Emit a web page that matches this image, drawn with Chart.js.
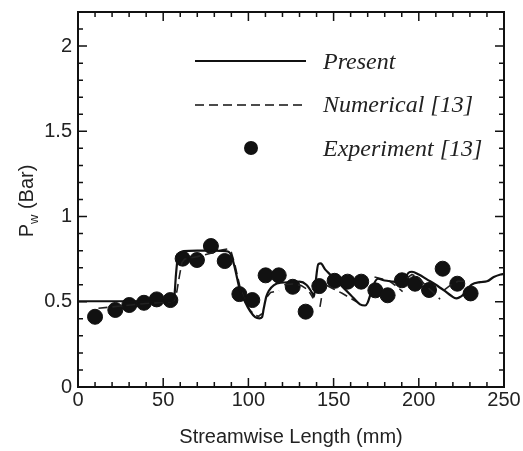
<!DOCTYPE html>
<html>
<head>
<meta charset="utf-8">
<script src="https://cdn.jsdelivr.net/npm/chart.js@4/dist/chart.umd.min.js"></script>
<style>
  html,body{margin:0;padding:0;background:#fff;}
  #wrap{width:523px;height:451px;}
</style>
</head>
<body>
<div id="wrap"><canvas id="grafico" width="523" height="451"></canvas></div>
<script>
// dados
const xTicks = [0, 50, 100, 150, 200, 250];
const yTicks = [0, 0.5, 1, 1.5, 2];

const presentX = [0, 20, 40, 55, 56.5, 57.5, 58.5, 60, 62, 70, 80, 88, 90, 92, 95, 98, 101, 104, 106.5, 108, 109, 110.5, 112, 115, 119, 125, 130, 134, 137.5, 138.5, 139.5, 141, 142.5, 145, 148, 154, 160, 165.5, 168.5, 170, 171.5, 173, 176, 180, 185, 190, 192, 194, 196, 200, 205, 210, 215, 219, 222, 226, 231, 236, 240, 244, 248, 250];
const presentY = [0.503, 0.503, 0.503, 0.505, 0.53, 0.66, 0.755, 0.785, 0.797, 0.8, 0.8, 0.795, 0.77, 0.7, 0.57, 0.5, 0.445, 0.41, 0.403, 0.41, 0.46, 0.53, 0.565, 0.598, 0.612, 0.615, 0.618, 0.6, 0.55, 0.53, 0.62, 0.72, 0.725, 0.69, 0.66, 0.6, 0.54, 0.485, 0.478, 0.495, 0.54, 0.59, 0.635, 0.625, 0.618, 0.61, 0.64, 0.67, 0.676, 0.66, 0.63, 0.6, 0.565, 0.535, 0.52, 0.54, 0.6, 0.615, 0.62, 0.645, 0.66, 0.663];

const numX = [12, 25, 40, 54, 56.5, 58, 59.5, 61, 62.5, 70, 78, 85, 88, 90, 92, 95, 98, 101, 104, 106, 108, 109, 111, 113, 118, 119, 121, 126, 131, 135, 138, 139, 142, 143, 144, 146, 150, 155, 160, 163.5, 164, 174, 178, 183, 187, 190.5, 191, 193, 196, 200, 204.5, 208, 212.5, 213, 215, 219, 223, 230];
const numY = [0.462, 0.475, 0.49, 0.5, 0.51, 0.56, 0.65, 0.73, 0.75, 0.765, 0.785, 0.805, 0.81, 0.79, 0.72, 0.59, 0.5, 0.45, 0.42, 0.415, 0.43, null, 0.53, 0.555, 0.565, null, 0.6, 0.605, 0.595, 0.57, 0.52, null, 0.47, 0.53, null, 0.595, 0.575, 0.55, 0.52, 0.5, null, 0.645, 0.635, 0.62, 0.59, 0.56, null, 0.64, 0.66, 0.64, 0.59, 0.56, 0.515, null, 0.57, 0.6, 0.62, 0.62];

const expX = [10, 21.9, 30.1, 38.7, 46.2, 54.2, 61.4, 69.8, 78, 86.1, 94.7, 102.3, 110.1, 117.8, 126, 133.6, 141.6, 150.6, 158.2, 166.2, 174.5, 181.7, 190.1, 197.8, 206, 214, 222.6, 230.4];
const expY = [0.412, 0.452, 0.481, 0.494, 0.514, 0.51, 0.753, 0.745, 0.827, 0.739, 0.545, 0.51, 0.655, 0.655, 0.588, 0.442, 0.592, 0.623, 0.618, 0.618, 0.567, 0.538, 0.626, 0.606, 0.569, 0.694, 0.606, 0.549];

const legendas = ['Present', 'Numerical [13]', 'Experiment [13]'];

const pares = (xs, ys) => xs.map((x, i) => ({x: x, y: ys[i]}));
const cor = '#111';

// moldura, ticks internos, legenda e título do eixo y
const molduraPlugin = {
  id: 'moldura',
  afterDraw(chart){
    const ctx = chart.ctx, a = chart.chartArea;
    const sx = chart.scales.x, sy = chart.scales.y;
    ctx.save();
    ctx.strokeStyle = '#111';
    ctx.lineWidth = 2;
    ctx.strokeRect(a.left, a.top, a.right - a.left, a.bottom - a.top);
    ctx.lineWidth = 1.5;
    ctx.beginPath();
    for(let v = 0; v <= 250; v += 10){
      const p = sx.getPixelForValue(v);
      const L = v % 50 === 0 ? 9 : 5;
      ctx.moveTo(p, a.bottom); ctx.lineTo(p, a.bottom - L);
      ctx.moveTo(p, a.top); ctx.lineTo(p, a.top + L);
    }
    for(let k = 0; k <= 22; k++){
      const p = sy.getPixelForValue(k / 10);
      const L = k % 5 === 0 ? 9 : 5;
      ctx.moveTo(a.left, p); ctx.lineTo(a.left + L, p);
      ctx.moveTo(a.right, p); ctx.lineTo(a.right - L, p);
    }
    ctx.stroke();

    // legenda
    ctx.strokeStyle = cor;
    ctx.lineWidth = 2;
    ctx.beginPath(); ctx.moveTo(195, 61); ctx.lineTo(306, 61); ctx.stroke();
    ctx.lineWidth = 1.6;
    ctx.setLineDash([9, 5]);
    ctx.beginPath(); ctx.moveTo(195, 105); ctx.lineTo(306, 105); ctx.stroke();
    ctx.setLineDash([]);
    ctx.fillStyle = cor;
    ctx.beginPath(); ctx.arc(251, 148, 7, 0, Math.PI * 2); ctx.fill();
    ctx.fillStyle = '#222';
    ctx.font = 'italic 24px "Liberation Serif", serif';
    ctx.textBaseline = 'alphabetic';
    ctx.textAlign = 'left';
    ctx.fillText(legendas[0], 323, 69);
    ctx.fillText(legendas[1], 323, 112);
    ctx.fillText(legendas[2], 323, 156);

    // título do eixo y com subscrito
    ctx.translate(33, 201);
    ctx.rotate(-Math.PI / 2);
    ctx.font = '20px "Liberation Sans", Arial, sans-serif';
    const w1 = ctx.measureText('P').width;
    ctx.font = '13px "Liberation Sans", Arial, sans-serif';
    const w2 = ctx.measureText('w').width;
    ctx.font = '20px "Liberation Sans", Arial, sans-serif';
    const w3 = ctx.measureText(' (Bar)').width;
    let x0 = -(w1 + w2 + w3) / 2;
    ctx.fillText('P', x0, 0);
    ctx.font = '13px "Liberation Sans", Arial, sans-serif';
    ctx.fillText('w', x0 + w1, 5);
    ctx.font = '20px "Liberation Sans", Arial, sans-serif';
    ctx.fillText(' (Bar)', x0 + w1 + w2, 0);
    ctx.restore();
  }
};

const fonteEixo = {family: '"Liberation Sans", Arial, sans-serif', size: 20};

new Chart(document.getElementById('grafico'), {
  type: 'scatter',
  data: {
    datasets: [
      {
        label: legendas[2],
        data: pares(expX, expY),
        backgroundColor: cor,
        borderColor: cor,
        pointRadius: 7.5,
        pointHoverRadius: 7.5,
        order: 3
      },
      {
        label: legendas[1],
        data: pares(numX, numY),
        showLine: true,
        spanGaps: false,
        borderColor: '#222',
        borderWidth: 1.6,
        borderDash: [9, 5],
        pointRadius: 0,
        order: 2
      },
      {
        label: legendas[0],
        data: pares(presentX, presentY),
        showLine: true,
        borderColor: cor,
        borderWidth: 2.2,
        pointRadius: 0,
        cubicInterpolationMode: 'monotone',
        order: 1
      }
    ]
  },
  options: {
    responsive: false,
    animation: false,
    layout: {padding: {left: 0, right: 19, top: 12, bottom: 0}},
    plugins: {legend: {display: false}, tooltip: {enabled: false}},
    scales: {
      x: {
        type: 'linear', min: 0, max: 250,
        afterBuildTicks: s => { s.ticks = xTicks.map(v => ({value: v})); },
        afterFit: s => { s.height = 64; s.paddingLeft = 0; s.paddingRight = 0; },
        grid: {display: false, drawTicks: false},
        border: {display: false},
        ticks: {color: '#222', font: fonteEixo, padding: 1, maxRotation: 0, autoSkip: false, callback: v => String(v)},
        title: {display: true, text: 'Streamwise Length (mm)', color: '#222', font: fonteEixo, padding: {top: 14, bottom: 2}}
      },
      y: {
        type: 'linear', min: 0, max: 2.2,
        afterBuildTicks: s => { s.ticks = yTicks.map(v => ({value: v})); },
        afterFit: s => { s.width = 78; s.paddingTop = 0; s.paddingBottom = 0; },
        grid: {display: false, drawTicks: false},
        border: {display: false},
        ticks: {color: '#222', font: fonteEixo, padding: 6, autoSkip: false, callback: v => String(v)}
      }
    }
  },
  plugins: [molduraPlugin]
});
</script>
</body>
</html>
